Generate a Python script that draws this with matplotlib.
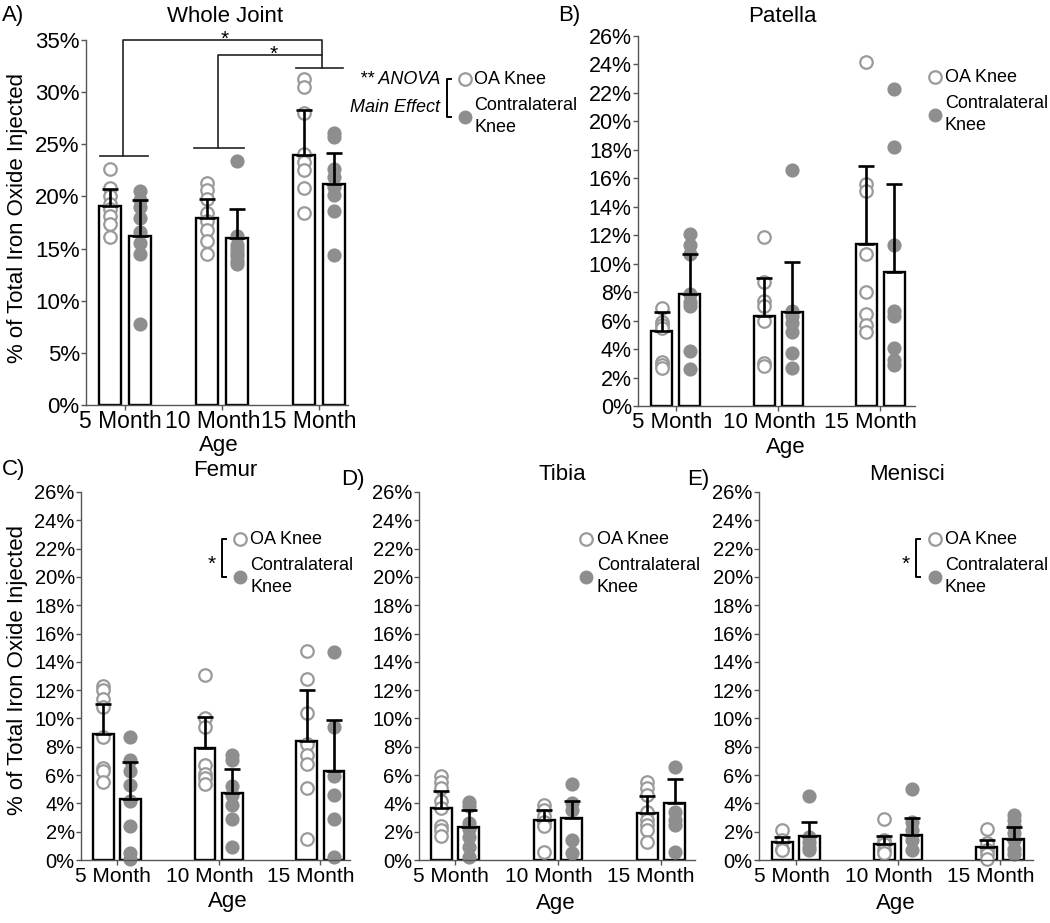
import numpy as np
import matplotlib
matplotlib.use('Agg')
import matplotlib.pyplot as plt
import matplotlib.transforms as mtransforms

plt.rcParams['font.family'] = ['Liberation Sans', 'DejaVu Sans']

W, H = 1050, 923

ages = ['5 Month', '10 Month', '15 Month']

# A) whole joint
whole_oa_mean = [19.1, 17.9, 24.0]
whole_oa_sd = [1.6, 1.85, 4.3]
whole_cl_mean = [16.2, 16.0, 21.2]
whole_cl_sd = [3.45, 2.8, 3.0]
whole_oa_pts = [[22.6, 20.8, 20.0, 19.3, 18.8, 18.1, 17.4, 16.1],
                [21.3, 20.6, 19.8, 18.4, 17.6, 16.8, 15.7, 14.5],
                [31.3, 30.5, 28.0, 24.1, 23.3, 22.5, 20.8, 18.4]]
whole_cl_pts = [[20.5, 19.7, 19.0, 17.9, 16.6, 15.5, 14.5, 7.8],
                [23.4, 16.2, 15.3, 15.0, 14.6, 14.3, 13.8, 13.5],
                [26.1, 25.7, 22.6, 21.9, 20.9, 20.1, 18.6, 14.4]]

# B) patella
pat_oa_mean = [5.3, 6.3, 11.4]
pat_oa_sd = [1.3, 2.7, 5.5]
pat_cl_mean = [7.9, 6.6, 9.4]
pat_cl_sd = [2.8, 3.5, 6.2]
pat_oa_pts = [[6.9, 5.9, 5.7, 5.5, 3.1, 2.9, 2.7],
              [11.9, 8.7, 7.4, 7.0, 6.0, 3.0, 2.8],
              [24.2, 15.6, 15.1, 10.7, 8.0, 6.5, 5.7, 5.2]]
pat_cl_pts = [[12.1, 11.3, 10.7, 7.9, 7.3, 7.0, 3.9, 2.6],
              [16.6, 6.7, 6.3, 5.8, 5.2, 3.7, 2.7],
              [22.3, 18.2, 11.3, 6.7, 6.3, 4.1, 3.2, 2.9]]

# C) femur
fem_oa_mean = [8.9, 7.9, 8.4]
fem_oa_sd = [2.1, 2.2, 3.6]
fem_cl_mean = [4.3, 4.7, 6.3]
fem_cl_sd = [2.6, 1.7, 3.6]
fem_oa_pts = [[12.3, 12.0, 11.4, 10.8, 8.7, 6.5, 6.3, 5.5],
              [13.1, 10.0, 9.4, 6.7, 6.1, 5.8, 5.4],
              [14.8, 12.8, 10.4, 8.2, 7.4, 6.8, 5.1, 1.5]]
fem_cl_pts = [[8.7, 7.1, 6.3, 5.3, 4.2, 2.4, 0.5, 0.1],
              [7.4, 7.1, 5.2, 4.6, 3.9, 2.9, 0.9],
              [14.7, 9.4, 5.9, 4.6, 2.9, 0.2]]

# D) tibia
tib_oa_mean = [3.7, 2.8, 3.3]
tib_oa_sd = [1.2, 0.7, 1.2]
tib_cl_mean = [2.3, 3.0, 4.0]
tib_cl_sd = [1.2, 1.2, 1.7]
tib_oa_pts = [[5.9, 5.5, 5.1, 4.2, 3.7, 2.4, 2.1, 1.7],
              [3.9, 3.5, 3.1, 2.7, 2.4, 0.6],
              [5.5, 5.1, 4.6, 3.4, 2.8, 2.5, 2.1, 1.3]]
tib_cl_pts = [[4.1, 3.8, 2.6, 2.2, 1.6, 0.9, 0.2],
              [5.4, 4.0, 3.5, 1.4, 0.5],
              [6.6, 3.4, 2.8, 2.5, 0.6]]

# E) menisci
men_oa_mean = [1.3, 1.1, 0.9]
men_oa_sd = [0.35, 0.6, 0.5]
men_cl_mean = [1.7, 1.8, 1.5]
men_cl_sd = [1.0, 1.2, 0.85]
men_oa_pts = [[2.1, 1.4, 0.8, 0.7],
              [2.9, 1.4, 1.1, 0.7, 0.5],
              [2.2, 1.2, 0.7, 0.4, 0.05]]
men_cl_pts = [[4.5, 1.6, 1.3, 0.9, 0.7],
              [5.0, 2.7, 2.1, 1.4, 0.7],
              [3.2, 2.8, 2.4, 1.9, 1.4, 0.8, 0.4]]

OPEN = '#9a9a9a'
FILL = '#8e8e8e'
AXC = '#555555'

fig = plt.figure(figsize=(W / 100, H / 100), dpi=100)


def px_axes(l, r, b, t):
    return fig.add_axes([l / W, 1 - b / H, (r - l) / W, (b - t) / H])


def draw_panel(ax, oa_m, oa_sd, oa_pts, cl_m, cl_sd, cl_pts, ymax, step,
               xlim, off, width, fs, lab_dy):
    x = np.arange(3)
    for xs, m, sd, pts, filled in [(x - off, oa_m, oa_sd, oa_pts, False),
                                   (x + off, cl_m, cl_sd, cl_pts, True)]:
        ax.bar(xs, m, width=width, color='white', edgecolor='black',
               linewidth=1.7, zorder=1)
        for xi, p in zip(xs, pts):
            if filled:
                ax.plot([xi] * len(p), p, 'o', ms=9, mfc=FILL, mec=FILL,
                        mew=1.2, zorder=2, clip_on=False)
            else:
                ax.plot([xi] * len(p), p, 'o', ms=9, mfc='white', mec=OPEN,
                        mew=1.6, zorder=2, clip_on=False)
        ax.errorbar(xs, m, yerr=[np.zeros(3), sd], fmt='none', ecolor='black',
                    elinewidth=1.9, capsize=5.5, capthick=1.9, zorder=3)
    ax.set_xlim(*xlim)
    ax.set_ylim(0, ymax)
    yt = np.arange(0, ymax + 0.01, step)
    ax.set_yticks(yt)
    ax.set_yticklabels(['%d%%' % v for v in yt], fontsize=fs)
    ax.set_xticks(x)
    ax.set_xticklabels([])
    # labels sit slightly left of their ticks in the original
    for xi, lab, dx in zip(x, ages, [-4, -9, -10]):
        tr = mtransforms.offset_copy(ax.get_xaxis_transform(), fig=fig,
                                     x=dx, y=-lab_dy, units='dots')
        ax.text(xi, 0, lab, transform=tr, ha='center', va='center',
                fontsize=fs + 0.5)
    ax.patch.set_alpha(0)
    for s in ['top', 'right']:
        ax.spines[s].set_visible(False)
    for s in ['left', 'bottom']:
        ax.spines[s].set_color(AXC)
        ax.spines[s].set_linewidth(1.0)
    ax.tick_params(axis='both', length=3.5, width=1.0, color=AXC, pad=1)


axA = px_axes(86, 348, 405, 40)
draw_panel(axA, whole_oa_mean, whole_oa_sd, whole_oa_pts, whole_cl_mean,
           whole_cl_sd, whole_cl_pts, 35, 5, (-0.40, 2.30), 0.155, 0.225, 16,
           16)
axB = px_axes(638, 915, 406, 36)
draw_panel(axB, pat_oa_mean, pat_oa_sd, pat_oa_pts, pat_cl_mean, pat_cl_sd,
           pat_cl_pts, 26, 2, (-0.37, 2.34), 0.137, 0.205, 15.5, 17)
axC = px_axes(81, 350, 860, 492)
draw_panel(axC, fem_oa_mean, fem_oa_sd, fem_oa_pts, fem_cl_mean, fem_cl_sd,
           fem_cl_pts, 26, 2, (-0.35, 2.29), 0.133, 0.205, 14.5, 17)
axD = px_axes(419, 695, 860, 492)
draw_panel(axD, tib_oa_mean, tib_oa_sd, tib_oa_pts, tib_cl_mean, tib_cl_sd,
           tib_cl_pts, 26, 2, (-0.35, 2.33), 0.133, 0.205, 14.5, 17)
axE = px_axes(759, 1033, 860, 492)
draw_panel(axE, men_oa_mean, men_oa_sd, men_oa_pts, men_cl_mean, men_cl_sd,
           men_cl_pts, 26, 2, (-0.36, 2.32), 0.133, 0.205, 14.5, 17)

# significance brackets on whole joint
kw = dict(color='#222222', lw=1.2, clip_on=False)
axA.plot([-0.26, 0.24], [23.9, 23.9], **kw)
axA.plot([-0.02, -0.02, 2.03, 2.03], [23.9, 35.0, 35.0, 32.3], **kw)
axA.plot([0.71, 1.23], [24.6, 24.6], **kw)
axA.plot([0.96, 0.96, 2.03], [24.6, 33.6, 33.6], **kw)
axA.plot([1.76, 2.25], [32.3, 32.3], **kw)
axA.text(1.03, 34.5, '*', ha='center', va='baseline', fontsize=15)
axA.text(1.53, 33.1, '*', ha='center', va='baseline', fontsize=15)

# overlay in pixel coordinates for titles, axis labels and legends
ov = fig.add_axes([0, 0, 1, 1], zorder=10)
ov.set_xlim(0, W)
ov.set_ylim(H, 0)
ov.axis('off')

titles = [('Whole Joint', 225, 16), ('Patella', 782, 16), ('Femur', 225, 470),
          ('Tibia', 562, 475), ('Menisci', 907, 475)]
for t, x, y in titles:
    ov.text(x, y, t, ha='center', va='center', fontsize=16)
letters = [('A)', 2, 16), ('B)', 558, 16), ('C)', 2, 470), ('D)', 341, 479),
           ('E)', 687, 479)]
for t, x, y in letters:
    ov.text(x, y, t, ha='left', va='center', fontsize=16)

age_pos = [(219, 445), (786, 447), (228, 902), (556, 903), (896, 903)]
for x, y in age_pos:
    ov.text(x, y, 'Age', ha='center', va='center', fontsize=16)

ylab = '% of Total Iron Oxide Injected'
ov.text(18, 218, ylab, rotation=90, ha='center', va='center', fontsize=16)
ov.text(18, 670, ylab, rotation=90, ha='center', va='center', fontsize=16)


def legend(cx, ty, tx, bracket=None, star=None):
    by = ty + 38
    ov.plot([cx], [ty], 'o', ms=9, mfc='white', mec=OPEN, mew=1.6)
    ov.plot([cx], [by], 'o', ms=9, mfc=FILL, mec=FILL)
    ov.text(tx, ty, 'OA Knee', ha='left', va='center', fontsize=13)
    ov.text(tx, by - 11, 'Contralateral', ha='left', va='center', fontsize=13)
    ov.text(tx, by + 10, 'Knee', ha='left', va='center', fontsize=13)
    if bracket is not None:
        ov.plot([bracket + 4, bracket, bracket, bracket + 4],
                [ty, ty, by, by], color='black', lw=1.4)
    if star is not None:
        ov.text(star, (ty + by) / 2 + 12, '*', ha='center', va='baseline',
                fontsize=15)


legend(465, 79, 474, bracket=447)
ov.text(440, 80, '** ANOVA', ha='right', va='center', fontsize=13,
        style='italic')
ov.text(440, 107, 'Main Effect', ha='right', va='center', fontsize=13,
        style='italic')
legend(935, 77, 945)
legend(240, 539, 250, bracket=222, star=212)
legend(586, 539, 597)
legend(935, 539, 945, bracket=916, star=906)

fig.savefig('out.png', dpi=100)
